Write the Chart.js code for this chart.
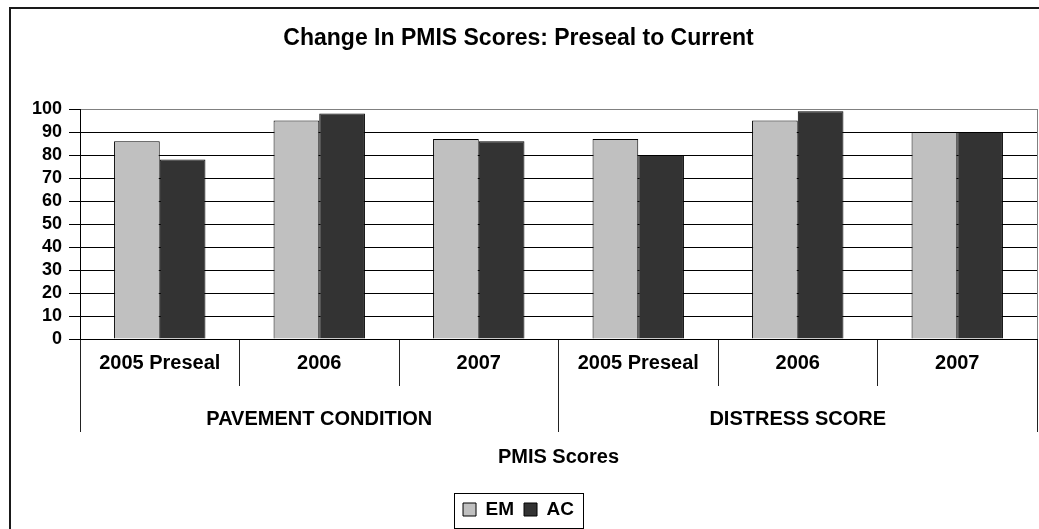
<!DOCTYPE html>
<html>
<head>
<meta charset="utf-8">
<title>Change In PMIS Scores</title>
<script src="https://cdn.jsdelivr.net/npm/chart.js@4/dist/chart.umd.min.js"></script>
<style>
  body { margin: 0; background: #fff; }
  canvas { display: block; }
</style>
</head>
<body>
<canvas id="pmisChart" width="1039" height="529"></canvas>
<script>
// data
const years = ["2005 Preseal", "2006", "2007", "2005 Preseal", "2006", "2007"];
const groups = ["PAVEMENT CONDITION", "DISTRESS SCORE"];
const emScores = [86, 95, 87, 87, 95, 90];
const acScores = [78, 98, 86, 80, 99, 90];
const yMin = 0;
const yMax = 100;
const yStep = 10;

Chart.defaults.font.family = "'Liberation Sans', Arial, sans-serif";
Chart.defaults.font.weight = "bold";
Chart.defaults.color = "#000";

// white page, outer frame, grey plot frame and the box round the legend
const framePlugin = {
  id: "frame",
  beforeDraw: (chart) => {
    const { ctx } = chart;
    ctx.save();
    ctx.fillStyle = "#fff";
    ctx.fillRect(0, 0, chart.width, chart.height);
    ctx.strokeStyle = "#1a1a1a";
    ctx.lineWidth = 2;
    ctx.strokeRect(10, 8, chart.width + 50, chart.height + 50);
    ctx.restore();
  },
  afterDraw: (chart) => {
    const { ctx, chartArea } = chart;
    ctx.save();
    ctx.strokeStyle = "#808080";
    ctx.lineWidth = 1;
    ctx.beginPath();
    ctx.moveTo(chartArea.right + 0.5, chartArea.top);
    ctx.lineTo(chartArea.right + 0.5, chartArea.bottom);
    ctx.stroke();

    const boxes = chart.legend.legendHitBoxes;
    if (boxes && boxes.length) {
      const first = boxes[0];
      const last = boxes[boxes.length - 1];
      const mid = first.top + first.height / 2;
      const left = Math.round(first.left - 9) + 0.5;
      const right = Math.round(last.left + last.width + 9) + 0.5;
      const top = Math.round(mid - 17) + 0.5;
      const bottom = Math.round(mid + 18) + 0.5;
      ctx.strokeStyle = "#000";
      ctx.strokeRect(left, top, right - left, bottom - top);
    }
    ctx.restore();
  },
};

const drawChart = () => {
  const canvas = document.getElementById("pmisChart");
  new Chart(canvas, {
    type: "bar",
    data: {
      labels: years,
      datasets: [
        {
          label: "EM",
          data: emScores,
          backgroundColor: "#c0c0c0",
          borderColor: "#000",
          borderWidth: 1,
          categoryPercentage: 0.573,
          barPercentage: 1,
        },
        {
          label: "AC",
          data: acScores,
          backgroundColor: "#333333",
          borderColor: "#000",
          borderWidth: 1,
          categoryPercentage: 0.573,
          barPercentage: 1,
        },
      ],
    },
    options: {
      responsive: false,
      animation: false,
      devicePixelRatio: 1,
      layout: { padding: { left: 0, right: 2, top: 0, bottom: 0 } },
      plugins: {
        title: {
          display: true,
          text: "Change In PMIS Scores: Preseal to Current",
          font: { size: 23, weight: "bold" },
          color: "#000",
          padding: { top: 25, bottom: 56.4 },
        },
        legend: {
          position: "bottom",
          labels: {
            boxWidth: 13,
            boxHeight: 13,
            padding: 10,
            color: "#000",
            font: { size: 19, weight: "bold" },
          },
        },
        tooltip: { enabled: false },
      },
      scales: {
        y: {
          min: yMin,
          max: yMax,
          afterFit: (scale) => {
            scale.width = 80;
          },
          ticks: {
            stepSize: yStep,
            autoSkip: false,
            maxTicksLimit: 11,
            padding: 7,
            font: { size: 18, weight: "bold", lineHeight: 1 },
            color: "#000",
          },
          grid: {
            color: (c) => (c.tick && c.tick.value === yMax ? "#808080" : "#000"),
            tickColor: "#000",
            tickLength: 11,
          },
          border: { color: "#000", width: 1 },
        },
        x: {
          type: "category",
          weight: 0,
          offset: true,
          afterFit: (scale) => {
            scale.height = 47;
          },
          ticks: {
            autoSkip: false,
            maxRotation: 0,
            padding: -35,
            font: { size: 20, weight: "bold" },
            color: "#000",
          },
          grid: {
            offset: true,
            drawOnChartArea: false,
            tickLength: 47,
            color: "#222",
          },
          border: { color: "#000", width: 1 },
        },
        x2: {
          type: "category",
          position: "bottom",
          labels: groups,
          weight: 1,
          offset: true,
          afterFit: (scale) => {
            scale.height = 104;
          },
          ticks: {
            autoSkip: false,
            maxRotation: 0,
            padding: -25,
            font: { size: 20, weight: "bold" },
            color: "#000",
          },
          grid: {
            offset: true,
            drawOnChartArea: false,
            tickLength: 46,
            color: "#222",
          },
          border: { display: false },
          title: {
            display: true,
            text: "PMIS Scores",
            font: { size: 20, weight: "bold" },
            color: "#000",
            padding: { top: 0, bottom: 21 },
          },
        },
      },
    },
    plugins: [framePlugin],
  });
};

drawChart();
</script>
</body>
</html>
